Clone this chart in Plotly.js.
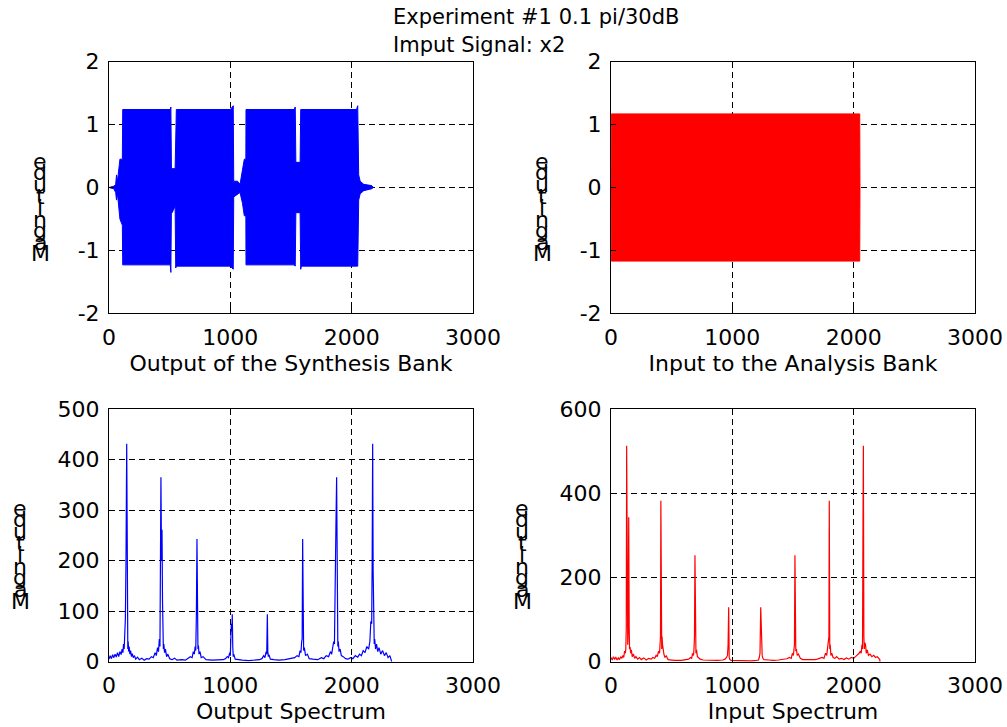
<!DOCTYPE html>
<html><head><meta charset="utf-8">
<script src="https://cdn.plot.ly/plotly-3.0.1.min.js"></script>
<style>html,body{margin:0;padding:0;background:#fff}#chart{width:1007px;height:727px}</style>
</head><body><div id="chart"></div>
<script>
// ---- Data ----
// Output of the Synthesis Bank: envelope of the (very dense) signal
const synthX     = [0, 40, 55, 62, 70, 82, 90, 100, 110, 113, 500, 505, 510, 515, 520, 545, 550, 555, 1000, 1018, 1024, 1028, 1060, 1080, 1100, 1115, 1128, 1129, 1525, 1535, 1540, 1575, 1580, 1585, 2040, 2050, 2058, 2070, 2100, 2165, 2180];
const synthUpper = [0, 0.02, 0.05, 0.2, 0.1, 0.3, 0.45, 0.45, 0.45, 1.24, 1.24, 1.24, 1.28, 0.2, 0.3, 0.3, 1.24, 1.24, 1.24, 1.3, 1.3, 0.1, 0.1, 0.05, 0.25, 0.45, 0.45, 1.24, 1.24, 1.28, 0.4, 0.4, 1.24, 1.24, 1.24, 1.3, 0.2, 0.1, 0.05, 0.03, 0];
const synthLower = [0, -0.02, -0.08, -0.2, -0.1, -0.3, -0.5, -0.55, -0.6, -1.23, -1.23, -1.23, -1.35, -0.2, -0.4, -0.3, -1.28, -1.25, -1.25, -1.3, -1.3, -0.15, -0.1, -0.08, -0.25, -0.45, -0.45, -1.23, -1.23, -1.25, -0.4, -0.4, -1.3, -1.25, -1.25, -1.25, -0.2, -0.1, -0.05, -0.02, 0];
// Input to the Analysis Bank: envelope
const analysisX     = [0, 3, 2050, 2052];
const analysisUpper = [0, 1.17, 1.17, 0];
const analysisLower = [0, -1.17, -1.17, 0];
// Output Spectrum: [frequency index, magnitude]
const outSpecPoints = [[0,5],[10,12],[20,6],[30,14],[40,8],[50,15],[60,9],[70,18],[80,10],[90,20],[100,14],[108,25],[115,18],[120,35],[125,25],[130,45],[135,85],[140,200],[143,340],[146,431],[149,300],[152,60],[155,25],[158,40],[162,20],[166,30],[172,15],[178,22],[185,10],[192,16],[200,8],[210,12],[220,5],[235,9],[250,4],[270,7],[290,3],[310,6],[330,5],[350,10],[365,8],[380,18],[390,12],[400,28],[408,20],[415,45],[420,30],[422,120],[428,365],[433,200],[437,261],[441,120],[445,45],[448,25],[452,35],[458,18],[465,25],[475,10],[485,15],[500,6],[520,4],[540,7],[560,3],[600,4],[630,3],[650,6],[670,10],[685,8],[695,20],[703,15],[710,30],[715,22],[720,90],[725,243],[729,80],[733,25],[737,32],[742,15],[750,20],[760,8],[775,10],[800,4],[850,3],[900,3],[940,4],[960,6],[975,10],[985,8],[995,18],[1000,12],[1005,40],[1008,75],[1013,60],[1016,94],[1020,30],[1024,10],[1028,15],[1040,5],[1060,4],[1100,3],[1150,2],[1200,3],[1240,4],[1260,6],[1275,12],[1285,8],[1295,20],[1300,15],[1302,35],[1305,94],[1309,20],[1313,10],[1318,14],[1330,5],[1360,4],[1400,3],[1450,4],[1500,6],[1530,8],[1550,12],[1565,10],[1575,22],[1582,18],[1588,40],[1592,45],[1596,243],[1600,30],[1604,22],[1610,28],[1620,12],[1635,15],[1650,6],[1680,5],[1720,4],[1750,8],[1770,6],[1790,12],[1810,10],[1825,20],[1835,15],[1845,30],[1852,40],[1858,35],[1863,100],[1870,261],[1876,365],[1881,120],[1886,30],[1890,40],[1896,20],[1905,25],[1915,12],[1930,10],[1950,6],[1970,5],[1990,8],[2010,6],[2030,12],[2050,9],[2065,15],[2080,12],[2095,22],[2110,18],[2125,30],[2140,25],[2150,40],[2158,80],[2165,75],[2169,200],[2173,431],[2177,180],[2181,60],[2186,35],[2190,45],[2197,25],[2205,35],[2215,20],[2225,28],[2240,15],[2255,22],[2270,12],[2285,18],[2300,8],[2315,12],[2325,3],[2330,0]];
// Input Spectrum: [frequency index, magnitude]
const inSpecPoints = [[0,10],[10,4],[20,12],[30,6],[40,10],[50,4],[60,9],[70,5],[80,12],[90,8],[98,15],[105,10],[112,25],[118,20],[122,30],[126,80],[129,513],[133,100],[138,40],[142,80],[146,343],[150,80],[153,30],[157,35],[162,20],[168,28],[175,12],[185,18],[195,8],[205,12],[220,6],[235,10],[250,5],[270,9],[290,4],[310,8],[330,6],[345,10],[360,8],[372,15],[382,12],[392,25],[400,20],[405,35],[408,60],[411,382],[415,50],[418,30],[421,60],[425,40],[430,25],[436,18],[445,10],[455,14],[470,5],[500,4],[520,3],[580,3],[620,4],[640,6],[655,10],[665,8],[672,20],[680,15],[684,30],[688,60],[692,253],[696,35],[700,20],[705,28],[712,12],[720,10],[735,6],[760,4],[820,3],[880,3],[920,4],[940,6],[952,10],[960,15],[965,40],[970,129],[974,10],[980,5],[990,3],[1050,2],[1150,2],[1200,3],[1215,4],[1222,10],[1228,20],[1234,129],[1238,60],[1242,85],[1246,15],[1252,8],[1260,5],[1300,4],[1340,3],[1380,4],[1420,5],[1450,7],[1470,10],[1485,8],[1495,20],[1503,15],[1508,30],[1512,40],[1516,253],[1520,45],[1523,25],[1528,30],[1535,15],[1545,18],[1560,8],[1580,5],[1640,4],[1680,5],[1700,6],[1720,9],[1740,10],[1755,8],[1768,20],[1778,15],[1785,40],[1792,55],[1796,60],[1799,382],[1803,30],[1807,40],[1812,15],[1820,20],[1830,10],[1845,8],[1860,12],[1880,6],[1900,8],[1920,5],[1940,9],[1960,6],[1980,10],[2000,8],[2015,12],[2030,15],[2045,20],[2055,25],[2062,20],[2068,40],[2073,30],[2077,343],[2080,513],[2084,60],[2088,30],[2092,45],[2098,40],[2104,20],[2112,28],[2122,15],[2135,18],[2150,12],[2165,15],[2180,10],[2195,12],[2210,6],[2215,5],[2217,0]];

const xTicks = [0, 1000, 2000, 3000];
const topYTicks = [-2, -1, 0, 1, 2];
const outSpecYTicks = [0, 100, 200, 300, 400, 500];
const inSpecYTicks = [0, 200, 400, 600];
const titleLines = ['Experiment #1 0.1 pi/30dB', 'Imput Signal: x2'];
const xTitles = ['Output of the Synthesis Bank', 'Input to the Analysis Bank', 'Output Spectrum', 'Input Spectrum'];
const yTitle = 'Magnitude';

// ---- Layout ----
const W = 1007, H = 727;
const FONT = 'DejaVu Sans, Liberation Sans, Arial, sans-serif';
const BLUE = '#0000ff', RED = '#ff0000';

function px2x(p){ return p / W; }
function px2y(p){ return 1 - p / H; }

const dom = {
  xl: [px2x(109), px2x(473)],
  xr: [px2x(611), px2x(975)],
  yt: [px2y(313.3), px2y(61.7)],
  yb: [px2y(661.7), px2y(409)]
};

function xaxisCfg(domain, anchor, title){
  return {
    domain: domain, anchor: anchor, range: [0, 3000], tickvals: xTicks,
    ticktext: xTicks.map(String),
    ticks: 'inside', ticklen: 5, tickcolor: '#000', tickwidth: 1,
    showline: true, linecolor: '#000', linewidth: 1, mirror: 'ticks',
    showgrid: true, gridcolor: '#000', gridwidth: 1, griddash: '6px,4px',
    zeroline: false, automargin: false, fixedrange: true,
    tickfont: {family: FONT, size: 22, color: '#000'},
    ticklabelstandoff: 4,
    title: {text: title, font: {family: FONT, size: 22, color: '#000'}, standoff: 6}
  };
}
function yaxisCfg(domain, anchor, range, ticks){
  return {
    domain: domain, anchor: anchor, range: range, tickvals: ticks,
    ticktext: ticks.map(String),
    ticks: 'inside', ticklen: 5, tickcolor: '#000', tickwidth: 1,
    showline: true, linecolor: '#000', linewidth: 1, mirror: 'ticks',
    showgrid: true, gridcolor: '#000', gridwidth: 1, griddash: '6px,4px',
    zeroline: false, automargin: false, fixedrange: true,
    tickfont: {family: FONT, size: 22, color: '#000'},
    ticklabelstandoff: 4
  };
}

const traces = [
  {x: synthX, y: synthUpper, xaxis: 'x', yaxis: 'y', type: 'scatter', mode: 'lines', line: {color: BLUE, width: 1}, showlegend: false, hoverinfo: 'skip'},
  {x: synthX, y: synthLower, xaxis: 'x', yaxis: 'y', type: 'scatter', mode: 'lines', line: {color: BLUE, width: 1}, fill: 'tonexty', fillcolor: BLUE, showlegend: false, hoverinfo: 'skip'},
  {x: analysisX, y: analysisUpper, xaxis: 'x2', yaxis: 'y2', type: 'scatter', mode: 'lines', line: {color: RED, width: 1}, showlegend: false, hoverinfo: 'skip'},
  {x: analysisX, y: analysisLower, xaxis: 'x2', yaxis: 'y2', type: 'scatter', mode: 'lines', line: {color: RED, width: 1}, fill: 'tonexty', fillcolor: RED, showlegend: false, hoverinfo: 'skip'},
  {x: outSpecPoints.map(p => p[0]), y: outSpecPoints.map(p => p[1]), xaxis: 'x3', yaxis: 'y3', type: 'scatter', mode: 'lines', line: {color: BLUE, width: 1.2}, showlegend: false, hoverinfo: 'skip'},
  {x: inSpecPoints.map(p => p[0]), y: inSpecPoints.map(p => p[1]), xaxis: 'x4', yaxis: 'y4', type: 'scatter', mode: 'lines', line: {color: RED, width: 1.2}, showlegend: false, hoverinfo: 'skip'}
];

// stacked (overlapping) y-axis title letters, as in the reference
const annotations = [];
const letterSpots = [
  {xc: 40, yM: 254}, {xc: 542, yM: 254}, {xc: 20, yM: 601}, {xc: 522, yM: 601}
];
const letters = yTitle.split('');
letterSpots.forEach(s => {
  letters.forEach((ch, i) => {
    annotations.push({
      text: ch, xref: 'paper', yref: 'paper', x: px2x(s.xc), y: px2y(s.yM - i * 11.6),
      xanchor: 'center', yanchor: 'middle', showarrow: false,
      font: {family: FONT, size: 22, color: '#000'}
    });
  });
});
titleLines.forEach((t, i) => {
  annotations.push({
    text: t, xref: 'paper', yref: 'paper', x: px2x(391), y: px2y(17 + i * 28),
    xanchor: 'left', yanchor: 'middle', showarrow: false,
    font: {family: FONT, size: 21, color: '#000'}
  });
});

const layout = {
  width: W, height: H,
  margin: {l: 0, r: 0, t: 0, b: 0},
  paper_bgcolor: '#fff', plot_bgcolor: '#fff',
  showlegend: false,
  xaxis:  xaxisCfg(dom.xl, 'y',  xTitles[0]),
  yaxis:  yaxisCfg(dom.yt, 'x',  [-2, 2], topYTicks),
  xaxis2: xaxisCfg(dom.xr, 'y2', xTitles[1]),
  yaxis2: yaxisCfg(dom.yt, 'x2', [-2, 2], topYTicks),
  xaxis3: xaxisCfg(dom.xl, 'y3', xTitles[2]),
  yaxis3: yaxisCfg(dom.yb, 'x3', [0, 500], outSpecYTicks),
  xaxis4: xaxisCfg(dom.xr, 'y4', xTitles[3]),
  yaxis4: yaxisCfg(dom.yb, 'x4', [0, 600], inSpecYTicks),
  annotations: annotations
};

Plotly.newPlot('chart', traces, layout, {staticPlot: true, displayModeBar: false});
</script>
</body></html>
